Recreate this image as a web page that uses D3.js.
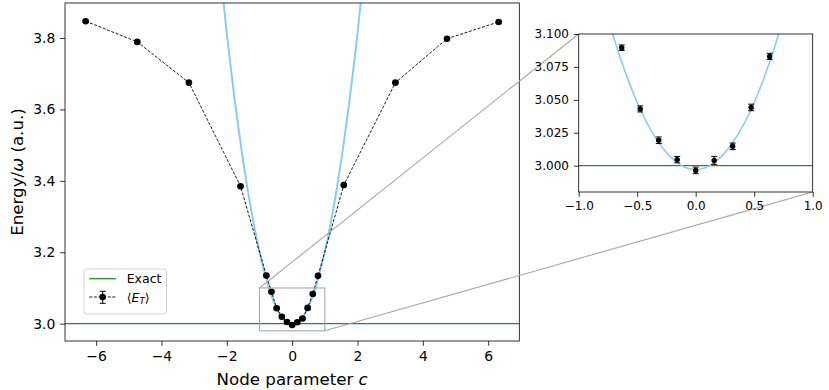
<!DOCTYPE html>
<html>
<head>
<meta charset="utf-8">
<script src="https://cdn.jsdelivr.net/npm/d3@7"></script>
<style>
  html, body { margin: 0; padding: 0; background: #fff; }
  svg { display: block; font-family: "DejaVu Sans", sans-serif; }
</style>
</head>
<body>
<svg id="chart" width="829" height="390"></svg>
<script>
// ---------------- DATA ----------------
const cValues = [-6.32, -4.74, -3.16, -1.58, -0.79, -0.632, -0.474, -0.316, -0.158, 0,
                 0.158, 0.316, 0.474, 0.632, 0.79, 1.58, 3.16, 4.74, 6.32];
const energyValues = [3.847, 3.789, 3.675, 3.385, 3.135, 3.0896, 3.0431, 3.0193, 3.0046, 2.9964,
                      3.0040, 3.0147, 3.0442, 3.0830, 3.134, 3.388, 3.675, 3.798, 3.845];
const energyErrors = [0.002, 0.002, 0.002, 0.002, 0.002, 0.0021, 0.0023, 0.0025, 0.0024, 0.0025,
                      0.003, 0.0025, 0.0025, 0.0023, 0.002, 0.002, 0.002, 0.002, 0.002];
// theoretical curve (sky blue)
const curveC = [-2.3, -2.0, -1.75, -1.5, -1.25, -1.0, -0.75, -0.5, -0.25, 0,
                0.25, 0.5, 0.75, 1.0, 1.25, 1.5, 1.75, 2.0, 2.3];
const curveE = [4.076, 3.813, 3.622, 3.456, 3.316, 3.201, 3.112, 3.048, 3.010, 2.997,
                3.010, 3.048, 3.112, 3.201, 3.316, 3.456, 3.622, 3.813, 4.076];
const exactEnergy = 3.0;
const mainXTicks = [-6, -4, -2, 0, 2, 4, 6];
const mainYTicks = [3.0, 3.2, 3.4, 3.6, 3.8];
const insetXTicks = [-1.0, -0.5, 0.0, 0.5, 1.0];
const insetYTicks = [3.000, 3.025, 3.050, 3.075, 3.100];
const legendLabels = ["Exact", "E_T"];

// ---------------- LAYOUT ----------------
const svg = d3.select("#chart");
const M = { left: 65, right: 519.3, top: 3, bottom: 341 };
const I = { left: 578.7, right: 812.7, top: 34, bottom: 192 };
const xMainDomain = [-6.952, 6.952], yMainDomain = [2.9515, 3.898];
const xInsetDomain = [-1, 1], yInsetDomain = [2.98, 3.1];
const TICK = 4.86;
const minus = s => s.replace("-", "\u2212");

const x = d3.scaleLinear().domain(xMainDomain).range([M.left, M.right]);
const y = d3.scaleLinear().domain(yMainDomain).range([M.bottom, M.top]);
const xi = d3.scaleLinear().domain(xInsetDomain).range([I.left, I.right]);
const yi = d3.scaleLinear().domain(yInsetDomain).range([I.bottom, I.top]);

const pts = cValues.map((c, i) => ({ c, e: energyValues[i], err: energyErrors[i] }));
const curvePts = curveC.map((c, i) => ({ c, e: curveE[i] }));

const defs = svg.append("defs");
defs.append("clipPath").attr("id", "clipMain").append("rect")
  .attr("x", M.left).attr("y", M.top).attr("width", M.right - M.left).attr("height", M.bottom - M.top);
defs.append("clipPath").attr("id", "clipInset").append("rect")
  .attr("x", I.left).attr("y", I.top).attr("width", I.right - I.left).attr("height", I.bottom - I.top);

const GREEN = "#2a8a2a", BLUE = "#87ceeb";

// ---------------- MAIN AXES ----------------
const gMain = svg.append("g");
const plotM = gMain.append("g").attr("clip-path", "url(#clipMain)");

plotM.append("line")
  .attr("x1", M.left).attr("x2", M.right)
  .attr("y1", y(exactEnergy)).attr("y2", y(exactEnergy))
  .attr("stroke", GREEN).attr("stroke-width", 1.3);

plotM.append("path").datum(curvePts)
  .attr("d", d3.line().x(d => x(d.c)).y(d => y(d.e)).curve(d3.curveNatural))
  .attr("fill", "none").attr("stroke", BLUE).attr("stroke-width", 2);

plotM.append("path").datum(pts)
  .attr("d", d3.line().x(d => x(d.c)).y(d => y(d.e)))
  .attr("fill", "none").attr("stroke", "#000").attr("stroke-width", 0.9)
  .attr("stroke-dasharray", "3,1.6");

function drawErr(g, data, sx, sy, cap, r) {
  const eg = g.append("g");
  eg.selectAll("line.v").data(data).join("line")
    .attr("x1", d => sx(d.c)).attr("x2", d => sx(d.c))
    .attr("y1", d => sy(d.e - d.err)).attr("y2", d => sy(d.e + d.err))
    .attr("stroke", "#000").attr("stroke-width", 1);
  eg.selectAll("line.lo").data(data).join("line")
    .attr("x1", d => sx(d.c) - cap).attr("x2", d => sx(d.c) + cap)
    .attr("y1", d => sy(d.e - d.err)).attr("y2", d => sy(d.e - d.err))
    .attr("stroke", "#000").attr("stroke-width", 1);
  eg.selectAll("line.hi").data(data).join("line")
    .attr("x1", d => sx(d.c) - cap).attr("x2", d => sx(d.c) + cap)
    .attr("y1", d => sy(d.e + d.err)).attr("y2", d => sy(d.e + d.err))
    .attr("stroke", "#000").attr("stroke-width", 1);
  eg.selectAll("circle").data(data).join("circle")
    .attr("cx", d => sx(d.c)).attr("cy", d => sy(d.e)).attr("r", r)
    .attr("fill", "#000");
}
drawErr(plotM, pts, x, y, 3, 3.3);

// axes
const axX = gMain.append("g").attr("transform", `translate(0,${M.bottom})`)
  .call(d3.axisBottom(x).tickValues(mainXTicks).tickSize(TICK).tickPadding(TICK)
        .tickFormat(d => minus(d3.format("d")(d))));
const axY = gMain.append("g").attr("transform", `translate(${M.left},0)`)
  .call(d3.axisLeft(y).tickValues(mainYTicks).tickSize(TICK).tickPadding(TICK)
        .tickFormat(d3.format(".1f")));
[axX, axY].forEach(a => {
  a.select(".domain").remove();
  a.selectAll("line").attr("stroke", "#000").attr("stroke-width", 0.8);
  a.selectAll("text").attr("font-size", 13.9).attr("fill", "#000")
    .attr("font-family", "DejaVu Sans");
});
gMain.append("rect")
  .attr("x", M.left).attr("y", M.top).attr("width", M.right - M.left).attr("height", M.bottom - M.top)
  .attr("fill", "none").attr("stroke", "#000").attr("stroke-width", 0.8);

// axis labels
const xl = gMain.append("text").attr("x", (M.left + M.right) / 2).attr("y", 385)
  .attr("text-anchor", "middle").attr("font-size", 16.67).attr("fill", "#000");
xl.append("tspan").text("Node parameter ");
xl.append("tspan").attr("font-style", "italic").text("c");

const yl = gMain.append("text")
  .attr("transform", `translate(22.5,${(M.top + M.bottom) / 2}) rotate(-90)`)
  .attr("text-anchor", "middle").attr("font-size", 16.67).attr("fill", "#000");
yl.append("tspan").text("Energy/");
yl.append("tspan").attr("font-style", "italic").text("\u03c9");
yl.append("tspan").text(" (a.u.)");

// legend
const lg = gMain.append("g");
lg.append("rect").attr("x", 84).attr("y", 269).attr("width", 82.5).attr("height", 45)
  .attr("rx", 2.5).attr("fill", "#fff").attr("fill-opacity", 0.8)
  .attr("stroke", "#cccccc").attr("stroke-width", 0.9);
lg.append("line").attr("x1", 89.3).attr("x2", 116).attr("y1", 278.7).attr("y2", 278.7)
  .attr("stroke", GREEN).attr("stroke-width", 1.3);
lg.append("text").attr("x", 126.7).attr("y", 283.2).attr("font-size", 12.5).attr("fill", "#000")
  .text(legendLabels[0]);
lg.append("line").attr("x1", 89.3).attr("x2", 116).attr("y1", 297).attr("y2", 297)
  .attr("stroke", "#000").attr("stroke-width", 0.9).attr("stroke-dasharray", "3,1.6");
lg.append("line").attr("x1", 102.7).attr("x2", 102.7).attr("y1", 291.3).attr("y2", 303.3)
  .attr("stroke", "#000").attr("stroke-width", 1);
[291.3, 303.3].forEach(yy => lg.append("line").attr("x1", 99.7).attr("x2", 105.7)
  .attr("y1", yy).attr("y2", yy).attr("stroke", "#000").attr("stroke-width", 1));
lg.append("circle").attr("cx", 102.7).attr("cy", 297).attr("r", 3.3).attr("fill", "#000");
const lt = lg.append("text").attr("x", 126.7).attr("y", 301.5).attr("font-size", 12.5).attr("fill", "#000");
lt.append("tspan").text("\u27e8");
lt.append("tspan").attr("font-style", "italic").text(legendLabels[1].split("_")[0]);
lt.append("tspan").attr("font-style", "italic").attr("font-size", 8.8).attr("dy", 2.5)
  .text(legendLabels[1].split("_")[1]);
lt.append("tspan").attr("dy", -2.5).text("\u27e9");

// inset indicator box + connectors
const GREY = "#a8a8a8";
gMain.append("rect")
  .attr("x", x(xInsetDomain[0])).attr("y", y(yInsetDomain[1]))
  .attr("width", x(xInsetDomain[1]) - x(xInsetDomain[0]))
  .attr("height", y(yInsetDomain[0]) - y(yInsetDomain[1]))
  .attr("fill", "none").attr("stroke", GREY).attr("stroke-width", 1.1);
gMain.append("line")
  .attr("x1", x(xInsetDomain[0])).attr("y1", y(yInsetDomain[1]))
  .attr("x2", I.left).attr("y2", I.top)
  .attr("stroke", GREY).attr("stroke-width", 1.1);
gMain.append("line")
  .attr("x1", x(xInsetDomain[1])).attr("y1", y(yInsetDomain[0]))
  .attr("x2", I.right).attr("y2", I.bottom)
  .attr("stroke", GREY).attr("stroke-width", 1.1);

// ---------------- INSET AXES ----------------
const gIn = svg.append("g");
gIn.append("rect").attr("x", I.left).attr("y", I.top)
  .attr("width", I.right - I.left).attr("height", I.bottom - I.top).attr("fill", "#fff");
const plotI = gIn.append("g").attr("clip-path", "url(#clipInset)");
plotI.append("line")
  .attr("x1", I.left).attr("x2", I.right)
  .attr("y1", yi(exactEnergy)).attr("y2", yi(exactEnergy))
  .attr("stroke", GREEN).attr("stroke-width", 1.2);
plotI.append("path").datum(curvePts)
  .attr("d", d3.line().x(d => xi(d.c)).y(d => yi(d.e)).curve(d3.curveNatural))
  .attr("fill", "none").attr("stroke", BLUE).attr("stroke-width", 1.6);
const inPts = pts.filter(d => d.c >= xInsetDomain[0] && d.c <= xInsetDomain[1] &&
                             d.e >= yInsetDomain[0] && d.e <= yInsetDomain[1]);
drawErr(plotI, inPts, xi, yi, 3, 2.7);

const axXi = gIn.append("g").attr("transform", `translate(0,${I.bottom})`)
  .call(d3.axisBottom(xi).tickValues(insetXTicks).tickSize(TICK).tickPadding(TICK)
        .tickFormat(d => minus(d3.format(".1f")(d))));
const axYi = gIn.append("g").attr("transform", `translate(${I.left},0)`)
  .call(d3.axisLeft(yi).tickValues(insetYTicks).tickSize(TICK).tickPadding(TICK)
        .tickFormat(d3.format(".3f")));
[axXi, axYi].forEach(a => {
  a.select(".domain").remove();
  a.selectAll("line").attr("stroke", "#000").attr("stroke-width", 0.8);
  a.selectAll("text").attr("font-size", 12).attr("fill", "#000")
    .attr("font-family", "DejaVu Sans");
});
gIn.append("rect").attr("x", I.left).attr("y", I.top)
  .attr("width", I.right - I.left).attr("height", I.bottom - I.top)
  .attr("fill", "none").attr("stroke", "#000").attr("stroke-width", 0.8);
</script>
</body>
</html>
